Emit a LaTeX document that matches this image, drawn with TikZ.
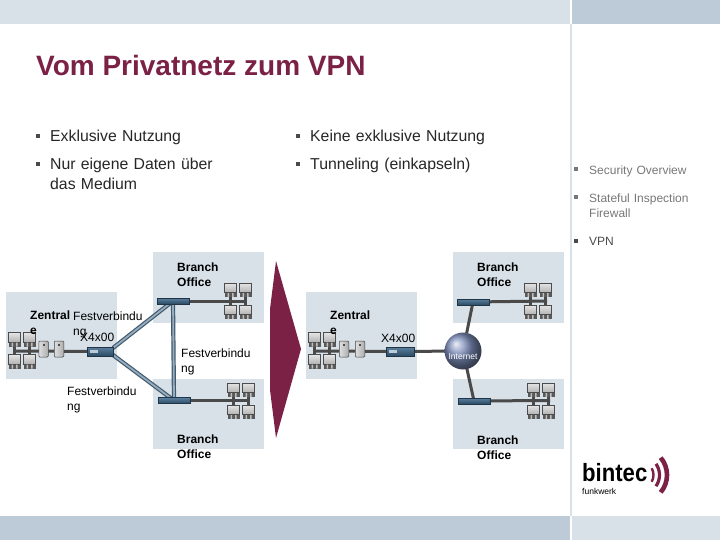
\documentclass[tikz,border=0pt]{standalone}
\usepackage{fontspec}
\setmainfont{Liberation Sans}
\usetikzlibrary{arrows.meta, positioning, calc, shadings}
\definecolor{barlight}{HTML}{D8E1E8}
\definecolor{bardark}{HTML}{BDCBD9}
\definecolor{wine}{HTML}{7A2145}
\definecolor{linkgrey}{HTML}{4A4A4A}
\definecolor{routerblue}{HTML}{3E6A8E}
\definecolor{sidegrey}{HTML}{777777}
\definecolor{globeblue}{HTML}{7F8FBC}

\begin{document}
\begin{tikzpicture}[
    x=1pt, y=-1pt,
    bar/.style={fill=#1, draw=none},
    panel/.style={fill=barlight, draw=none},
    title/.style={anchor=west, font=\fontsize{28}{32}\selectfont\bfseries, text=wine, inner sep=0pt},
    itemtext/.style={anchor=north west, font=\fontsize{15.8}{20}\selectfont, text=black!85, inner sep=0pt, text width=195pt, align=left},
    sidetext/.style={anchor=north west, font=\fontsize{12}{15}\selectfont, text=sidegrey, inner sep=0pt, text width=125pt, align=left},
    itembullet/.style={fill=#1, draw=none, minimum size=4.6pt, inner sep=0pt},
    boldlabel/.style={anchor=north west, font=\fontsize{12}{14.5}\selectfont\bfseries, inner sep=0pt, align=left},
    plainlabel/.style={anchor=north west, font=\fontsize{12}{14.5}\selectfont, inner sep=0pt, align=left},
    router/.style={draw=routerblue!50!black, line width=0.6pt, top color=routerblue!85!white, bottom color=routerblue!70!black, inner sep=0pt},
    link/.style={draw=linkgrey, line width=3pt},
    fixedlink/.style={draw=linkgrey!50!routerblue, line width=1.2pt, double=routerblue!55!white, double distance=1.8pt},
    globe/.style={circle, minimum size=37pt, inner sep=0pt, ball color=globeblue},
    pc/.pic={
      \fill[top color=gray!20, bottom color=gray!60] (-6,-7) rectangle (6,2.5);
      \draw[gray!60!black, line width=0.4pt] (-6,-7) rectangle (6,2.5);
      \fill[black!65] (-6,3) rectangle (6,7);
      \fill[gray!50] (-3,3) rectangle (-1.5,7) (1.5,3) rectangle (3,7);
    },
    pcquad/.pic={
      \draw[link, line width=2.4pt] (-8,-11) -- (-8,11) (7,-11) -- (7,11);
      \foreach \px in {-8,7}
        \foreach \py in {-11,11}
          \pic at (\px,\py) {pc};
    },
    serverbox/.style={draw=gray!50!black, line width=0.5pt, rounded corners=1pt, left color=gray!25, right color=gray!65, minimum width=9.5pt, minimum height=16pt, inner sep=0pt}
  ]
  \useasboundingbox (0,0) rectangle (720,540);

  % bars
  \fill[bar=barlight] (0,0) rectangle (570,24);
  \fill[bar=bardark] (571.5,0) rectangle (720,24);
  \fill[bar=bardark] (0,516) rectangle (570,540);
  \fill[bar=barlight] (571.5,516) rectangle (720,540);
  \fill[bar=barlight] (570,24) rectangle (571.5,516);

  \node[title] (head) at (36,65) {Vom Privatnetz zum VPN};

  % text columns
  \node[itembullet=linkgrey] (b1) at (38,136) {};
  \node[itemtext] (t1) at (50,129.5) {Exklusive Nutzung};
  \node[itembullet=linkgrey] (b2) at (38,164) {};
  \node[itemtext] (t2) at (50,157.5) {Nur eigene Daten über\\das Medium};
  \node[itembullet=linkgrey] (b3) at (298,136) {};
  \node[itemtext] (t3) at (310,129.5) {Keine exklusive Nutzung};
  \node[itembullet=linkgrey] (b4) at (298,164) {};
  \node[itemtext] (t4) at (310,157.5) {Tunneling (einkapseln)};

  \node[itembullet=sidegrey, minimum size=3.6pt] (s1) at (576,169) {};
  \node[sidetext] (u1) at (589,165.5) {Security Overview};
  \node[itembullet=sidegrey, minimum size=3.6pt] (s2) at (576,197) {};
  \node[sidetext] (u2) at (589,193.5) {Stateful Inspection\\Firewall};
  \node[itembullet=linkgrey, minimum size=3.6pt] (s3) at (576,241) {};
  \node[sidetext, text=linkgrey] (u3) at (589,237.5) {VPN};

  % panels
  \fill[panel] (6,292) rectangle (117,379);
  \fill[panel] (153,252) rectangle (264,323);
  \fill[panel] (153,379) rectangle (264,449);
  \fill[panel] (306,292) rectangle (417,379);
  \fill[panel] (453,252) rectangle (564,323);
  \fill[panel] (453,379) rectangle (564,449);

  % big arrow
  \fill[wine] (270,309) -- (276,261) -- (301,349) -- (276,438) -- (270,390) -- cycle;

  % left network
  \coordinate (zrouter) at (100,351.5);
  \coordinate (brtop) at (173,301);
  \coordinate (brbot) at (174,400.5);
  \coordinate (zbus) at (14,351);
  \coordinate (tbus) at (247,301);
  \coordinate (bbus) at (250,400.5);
  \draw[fixedlink] (113,348) -- (brtop);
  \draw[fixedlink] (113,355) -- (brbot);
  \draw[fixedlink] (brtop) -- (brbot);
  \draw[link] (zbus) -- (zrouter);
  \draw[link] (brtop) -- (tbus);
  \draw[link] (brbot) -- (bbus);
  \pic at (22.5,350.5) {pcquad};
  \node[serverbox] (srva) at (43.5,349) {};
  \node[serverbox] (srvb) at (59,349) {};
  \node[router, minimum width=26pt, minimum height=9pt] (zbox) at (zrouter) {};
  \node[router, minimum width=32pt, minimum height=6pt] (tbox) at (brtop) {};
  \node[router, minimum width=32pt, minimum height=6pt] (bbox) at (brbot) {};
  \pic at (238.5,301) {pcquad};
  \pic at (241.5,401) {pcquad};

  % right network
  \coordinate (vrouter) at (400,351.5);
  \coordinate (vtop) at (473,302);
  \coordinate (vbot) at (474,401);
  \coordinate (inet) at (463,351);
  \coordinate (wbus) at (314,351);
  \coordinate (xbus) at (547,301);
  \coordinate (ybus) at (550,400.5);
  \draw[link] (wbus) -- (vrouter);
  \draw[link] (vrouter) -- (inet);
  \draw[link] (inet) -- (vtop);
  \draw[link] (inet) -- (vbot);
  \draw[link] (vtop) -- (xbus);
  \draw[link] (vbot) -- (ybus);
  \pic at (322.5,350.5) {pcquad};
  \node[serverbox] (srvc) at (344,349) {};
  \node[serverbox] (srvd) at (360,349) {};
  \node[router, minimum width=28pt, minimum height=9pt] (vbox) at (vrouter) {};
  \node[router, minimum width=32pt, minimum height=6pt] (xbox) at (vtop) {};
  \node[router, minimum width=32pt, minimum height=6pt] (ybox) at (vbot) {};
  \pic at (538.5,301) {pcquad};
  \pic at (541.5,401) {pcquad};
  \node[globe] (inetball) at (inet) {};
  \node[font=\fontsize{8.5}{9}\selectfont, text=white, inner sep=0pt] (inetlabel) at (463,357) {Internet};

  \foreach \srv in {srva,srvb,srvc,srvd}
    \fill[black!70] ($(\srv.north)+(-1,3)$) rectangle ++(2,2);
  \foreach \rt in {zbox,vbox}
    \fill[routerblue!35!white] ($(\rt.west)+(3,-2)$) rectangle ++(8,3.5);

  % labels
  \node[boldlabel] (zl) at (30,311) {Zentral\\e};
  \node[plainlabel] (f1) at (73,312) {Festverbindu\\ng};
  \node[plainlabel] (x1) at (80,333) {X4x00};
  \node[plainlabel] (f2) at (181,349) {Festverbindu\\ng};
  \node[plainlabel] (f3) at (67,387) {Festverbindu\\ng};
  \node[boldlabel] (o1) at (177,263) {Branch\\Office};
  \node[boldlabel] (o2) at (177,435) {Branch\\Office};
  \node[boldlabel] (zr) at (330,311) {Zentral\\e};
  \node[plainlabel] (x2) at (381,334) {X4x00};
  \node[boldlabel] (o3) at (477,263) {Branch\\Office};
  \node[boldlabel] (o4) at (477,436) {Branch\\Office};

  % logo
  \node[anchor=base west, font=\fontsize{25}{25}\selectfont\bfseries, inner sep=0pt, xscale=0.885, transform shape] (logo) at (582,481) {bintec};
  \node[anchor=base west, font=\fontsize{8.5}{9}\selectfont, inner sep=0pt] (sublogo) at (582,494) {funkwerk};
  \draw[wine, line width=2.4pt] (640,475) ++(-30:13.5) arc (-30:30:13.5);
  \draw[wine, line width=3.2pt] (640,475) ++(-35:19.5) arc (-35:35:19.5);
  \draw[wine, line width=4.6pt] (640,475) ++(-40:27) arc (-40:40:27);
\end{tikzpicture}
\end{document}
